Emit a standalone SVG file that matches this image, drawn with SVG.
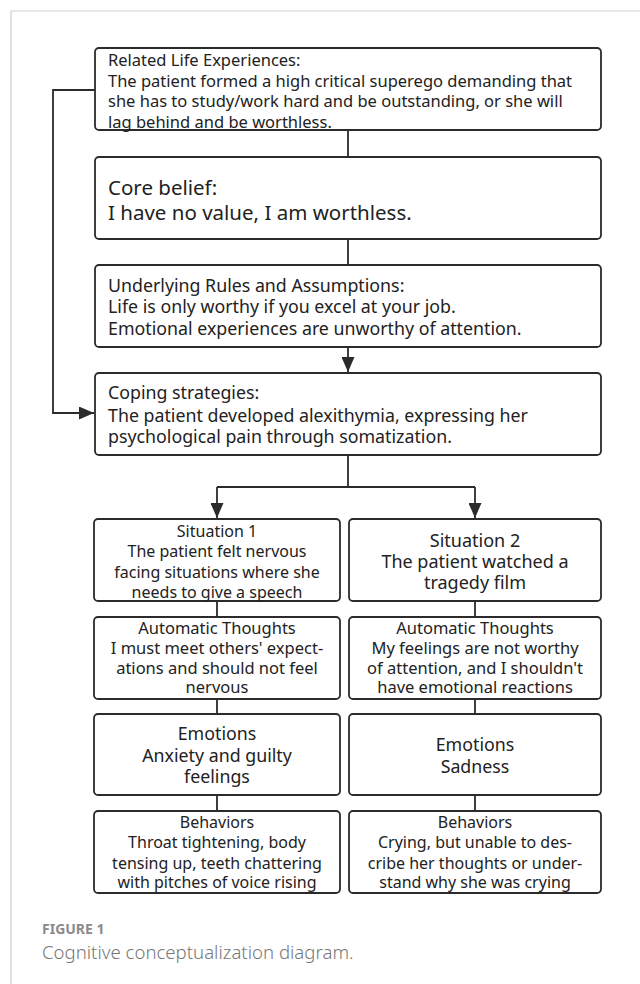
<svg xmlns="http://www.w3.org/2000/svg" width="640" height="984" viewBox="0 0 640 984">
<defs>
<style>
.box{fill:#fff;stroke:#2b2b2b;stroke-width:1.8}
.ln{fill:none;stroke:#2b2b2b;stroke-width:1.8}
text{font-family:"Noto Sans","Open Sans",sans-serif;fill:#222}
.t16{font-size:16px}
.t165{font-size:16.5px}
.t17{font-size:17.8px}
.t20{font-size:20.5px}
.c{text-anchor:middle}
.frame{fill:none;stroke:#cfcfcf;stroke-width:1.2}
.cap1{font-size:14px;font-weight:bold;fill:#8a8a8a}
.cap2{font-size:18.6px;fill:#777;font-weight:300}
</style>
<marker id="ah" markerUnits="userSpaceOnUse" markerWidth="15" markerHeight="13" refX="15" refY="6.5" orient="auto">
<path d="M0,0 L15,6.5 L0,13 z" fill="#2b2b2b"/>
</marker>
</defs>
<rect width="640" height="984" fill="#fff"/>
<path class="frame" d="M11,984 V11 H640"/>

<g id="connectors">
<path class="ln" d="M348,130 V157"/>
<path class="ln" d="M348,239 V265"/>
<path class="ln" d="M348,347 V372" marker-end="url(#ah)"/>
<path class="ln" d="M95,90 H53 V413 H94" marker-end="url(#ah)"/>
<path class="ln" d="M348,455 V487"/>
<path class="ln" d="M217,487 H475"/>
<path class="ln" d="M217,487 V518" marker-end="url(#ah)"/>
<path class="ln" d="M475,487 V518" marker-end="url(#ah)"/>
<path class="ln" d="M217,601 V617 M217,699 V714 M217,795 V811"/>
<path class="ln" d="M475,601 V617 M475,699 V714 M475,795 V811"/>
</g>

<g id="life">
<rect class="box" x="95" y="48" width="506" height="82" rx="4"/>
<text class="t165" x="108" y="66">Related Life Experiences:</text>
<text class="t165" x="108" y="87">The patient formed a high critical superego demanding that</text>
<text class="t165" x="108" y="107">she has to study/work hard and be outstanding, or she will</text>
<text class="t165" x="108" y="128">lag behind and be worthless.</text>
</g>

<g id="core">
<rect class="box" x="95" y="157" width="506" height="82" rx="4"/>
<text class="t20" x="108" y="195">Core belief:</text>
<text class="t20" x="108" y="220">I have no value, I am worthless.</text>
</g>

<g id="rules">
<rect class="box" x="95" y="265" width="506" height="82" rx="4"/>
<text class="t17" x="108" y="292">Underlying Rules and Assumptions:</text>
<text class="t17" x="108" y="313">Life is only worthy if you excel at your job.</text>
<text class="t17" x="108" y="335">Emotional experiences are unworthy of attention.</text>
</g>

<g id="coping">
<rect class="box" x="95" y="373" width="506" height="82" rx="4"/>
<text class="t17" x="108" y="399">Coping strategies:</text>
<text class="t17" x="108" y="422">The patient developed alexithymia, expressing her</text>
<text class="t17" x="108" y="443">psychological pain through somatization.</text>
</g>

<g id="situation1">
<rect class="box" x="94" y="519" width="246" height="82" rx="4"/>
<text class="t16 c" x="217" y="537">Situation 1</text>
<text class="t16 c" x="217" y="557">The patient felt nervous</text>
<text class="t16 c" x="217" y="578">facing situations where she</text>
<text class="t16 c" x="217" y="598">needs to give a speech</text>
</g>

<g id="situation2">
<rect class="box" x="349" y="519" width="252" height="82" rx="4"/>
<text class="c" x="475" y="547" style="font-size:18px">Situation 2</text>
<text class="c" x="475" y="568" style="font-size:18px">The patient watched a</text>
<text class="c" x="475" y="589" style="font-size:18px">tragedy film</text>
</g>

<g id="thoughts1">
<rect class="box" x="94" y="617" width="246" height="82" rx="4"/>
<text class="t165 c" x="217" y="634">Automatic Thoughts</text>
<text class="t165 c" x="217" y="654">I must meet others' expect-</text>
<text class="t165 c" x="217" y="674">ations and should not feel</text>
<text class="t165 c" x="217" y="693">nervous</text>
</g>

<g id="thoughts2">
<rect class="box" x="349" y="617" width="252" height="82" rx="4"/>
<text class="t165 c" x="475" y="634">Automatic Thoughts</text>
<text class="t165 c" x="475" y="654">My feelings are not worthy</text>
<text class="t165 c" x="475" y="674">of attention, and I shouldn't</text>
<text class="t165 c" x="475" y="693">have emotional reactions</text>
</g>

<g id="emotions1">
<rect class="box" x="94" y="714" width="246" height="81" rx="4"/>
<text class="t17 c" x="217" y="740">Emotions</text>
<text class="t17 c" x="217" y="762">Anxiety and guilty</text>
<text class="t17 c" x="217" y="783">feelings</text>
</g>

<g id="emotions2">
<rect class="box" x="349" y="714" width="252" height="81" rx="4"/>
<text class="t17 c" x="475" y="751">Emotions</text>
<text class="t17 c" x="475" y="773">Sadness</text>
</g>

<g id="behaviors1">
<rect class="box" x="94" y="811" width="246" height="82" rx="4"/>
<text class="t16 c" x="217" y="828">Behaviors</text>
<text class="t16 c" x="217" y="848">Throat tightening, body</text>
<text class="t16 c" x="217" y="869">tensing up, teeth chattering</text>
<text class="t16 c" x="217" y="888">with pitches of voice rising</text>
</g>

<g id="behaviors2">
<rect class="box" x="349" y="811" width="252" height="82" rx="4"/>
<text class="t16 c" x="475" y="828">Behaviors</text>
<text class="t16 c" x="475" y="848">Crying, but unable to des-</text>
<text class="t16 c" x="475" y="869">cribe her thoughts or under-</text>
<text class="t16 c" x="475" y="888">stand why she was crying</text>
</g>

<g id="caption">
<text class="cap1" x="42" y="934">FIGURE 1</text>
<text class="cap2" x="42" y="959">Cognitive conceptualization diagram.</text>
</g>
</svg>
